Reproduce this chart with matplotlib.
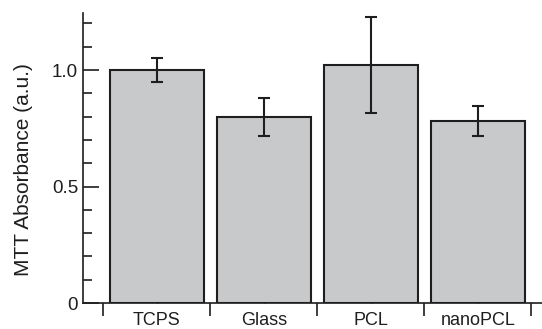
import numpy as np
import matplotlib
matplotlib.use('Agg')
import matplotlib.pyplot as plt
from matplotlib.ticker import MultipleLocator, FixedLocator

# Data
categories = ['TCPS', 'Glass', 'PCL', 'nanoPCL']
absorbance = [1.00, 0.80, 1.02, 0.78]
errors = [0.05, 0.082, 0.206, 0.065]

plt.rcParams['font.family'] = ['Liberation Sans', 'DejaVu Sans']

fig = plt.figure(figsize=(5.42, 3.29), dpi=100)
ax = fig.add_axes([83 / 542, 1 - 303 / 329, 1 - 83 / 542, (303 - 13) / 329])

x = np.arange(len(categories))
ax.bar(x, absorbance, width=0.88, color='#c8c9cb', edgecolor='#1e1e1e',
       linewidth=1.5, zorder=2)
ax.errorbar(x, absorbance, yerr=errors, fmt='none', ecolor='#1e1e1e',
            elinewidth=1.5, capsize=4, capthick=1.5, zorder=3)

ax.set_xlim(-0.69, 3.6)
ax.set_ylim(0, 1.245)

ax.spines['top'].set_visible(False)
ax.spines['right'].set_visible(False)
for s in ['left', 'bottom']:
    ax.spines[s].set_linewidth(1.2)
    ax.spines[s].set_color('#1e1e1e')

# y ticks
ax.yaxis.set_major_locator(FixedLocator([0, 0.5, 1.0]))
ax.yaxis.set_minor_locator(MultipleLocator(0.1))
ax.set_yticklabels(['0', '0.5', '1.0'])
ax.tick_params(axis='y', which='major', direction='in', length=11.5, width=1.2,
               pad=3.5, labelsize=13.5, colors='#1e1e1e')
ax.tick_params(axis='y', which='minor', direction='in', length=6.5, width=1.2,
               colors='#1e1e1e')

# x ticks: labels at centres, boundary ticks outward
ax.set_xticks(x)
ax.set_xticklabels(categories)
ax.xaxis.set_minor_locator(FixedLocator(np.arange(-0.5, len(categories), 1.0)))
ax.tick_params(axis='x', which='major', direction='in', length=2, width=1,
               pad=6.5, labelsize=13, colors='#1e1e1e')
ax.tick_params(axis='x', which='minor', direction='out', length=9.5, width=1.2,
               colors='#1e1e1e')

ax.set_ylabel('MTT Absorbance (a.u.)', fontsize=15, color='#1e1e1e')
ax.yaxis.set_label_coords(-0.109, 0.459)

fig.savefig('out.png', dpi=100)
